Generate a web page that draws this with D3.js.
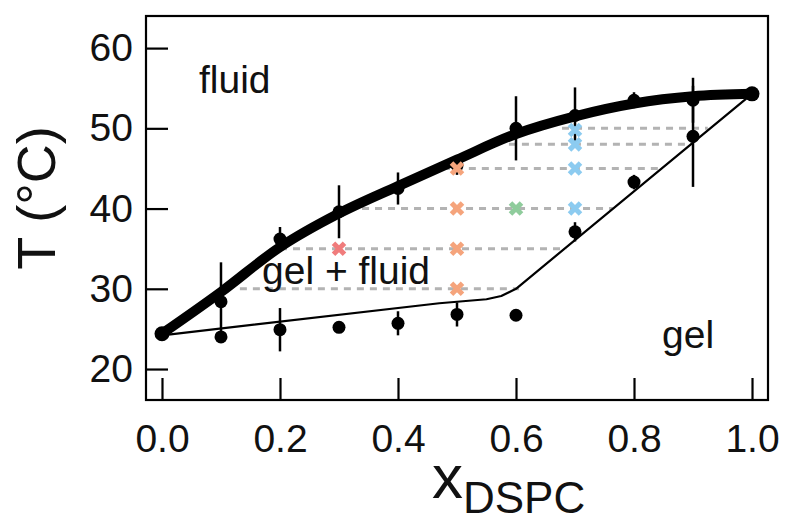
<!DOCTYPE html>
<html>
<head>
	<meta charset="utf-8">
	<script src="https://d3js.org/d3.v7.min.js"></script>
	<style>
	body{
		margin: 0;
		background: #fff;
	}
	svg text{
		font-family: "Liberation Sans", Arial, Helvetica, sans-serif;
		fill: #111;
	}
	</style>
</head>
<body>
<svg id="chart" width="785" height="523"></svg>
<script>
// composition (x DSPC)
var comps = [0.0, 0.1, 0.2, 0.3, 0.4, 0.5, 0.6, 0.7, 0.8, 0.9, 1.0];

// upper (liquidus) measured points
var upperT   = [24.4, 28.4, 36.2, 39.6, 42.5, 45.4, 50.0, 51.6, 53.5, 53.5, 54.3];
var upperErr = [0,    4.9,  1.5,  3.3,  2.0,  1.2,  4.0,  3.5,  1.0,  2.8,  0];

// lower (solidus) measured points, 0.1 .. 0.9
var lowerX   = [0.1, 0.2, 0.3, 0.4, 0.5, 0.6, 0.7, 0.8, 0.9];
var lowerT   = [24.0, 24.9, 25.2, 25.7, 26.8, 26.7, 37.1, 43.3, 49.0];
var lowerErr = [0.7, 2.7, 0, 1.5, 1.5, 0, 1.2, 0.9, 6.3];

// fitted liquidus curve (thick)
var fluidFitX = [0.0, 0.1, 0.2, 0.3, 0.4, 0.5, 0.6, 0.7, 0.8, 0.9, 1.0];
var fluidFitT = [24.4, 29.6, 35.2, 39.4, 42.8, 46.1, 49.3, 51.5, 53.1, 54.0, 54.3];

// fitted solidus line (thin)
var gelFitX = [0.0, 0.47, 0.55, 0.575, 0.6, 1.0];
var gelFitT = [24.2, 28.2, 28.7, 29.1, 30.0, 54.3];

// tie lines (dashed)
var tieT     = [30, 35, 40, 45, 48, 50];
var tieStart = [0.132, 0.2, 0.317, 0.476, 0.588, 0.678];
var tieEnd   = [0.605, 0.685, 0.764, 0.844, 0.893, 0.925];

// crosses
var crossX   = [0.3, 0.5, 0.5, 0.5, 0.5, 0.6, 0.7, 0.7, 0.7, 0.7];
var crossT   = [35, 30, 35, 40, 45, 40, 40, 45, 48, 49.8];
var crossCol = ["#f07c7c", "#f5a47c", "#f5a47c", "#f5a47c", "#f5a47c", "#8fcc9c", "#8ccbf0", "#8ccbf0", "#8ccbf0", "#8ccbf0"];

var xTicks = [0.0, 0.2, 0.4, 0.6, 0.8, 1.0];
var yTicks = [20, 30, 40, 50, 60];

// plot frame (px)
var pLeft = 146, pRight = 768, pTop = 16, pBottom = 400;

var x = d3.scaleLinear().domain([-0.0271, 1.0271]).range([pLeft, pRight]);
var y = d3.scaleLinear().domain([16.14, 64.0]).range([pBottom, pTop]);

var svg = d3.select("#chart");

// tie lines
tieT.forEach(function(t, i){
	svg.append("line")
		.attr("x1", x(tieStart[i]))
		.attr("x2", x(tieEnd[i]))
		.attr("y1", y(t))
		.attr("y2", y(t))
		.attr("stroke", "#b3b3b3")
		.attr("stroke-width", 3)
		.attr("stroke-dasharray", "7,6");
});

// solidus fit
var gelLine = d3.line()
	.x(function(d){ return x(d[0]); })
	.y(function(d){ return y(d[1]); });
svg.append("path")
	.attr("d", gelLine(gelFitX.map(function(v, i){ return [v, gelFitT[i]]; })))
	.attr("fill", "none")
	.attr("stroke", "#000")
	.attr("stroke-width", 2.2)
	.attr("stroke-linejoin", "round");

// liquidus fit
svg.append("path")
	.attr("d", d3.line()
		.x(function(d){ return x(d[0]); })
		.y(function(d){ return y(d[1]); })
		.curve(d3.curveCatmullRom)(fluidFitX.map(function(v, i){ return [v, fluidFitT[i]]; })))
	.attr("fill", "none")
	.attr("stroke", "#000")
	.attr("stroke-width", 10)
	.attr("stroke-linecap", "round");

// error bars
function errBar(cx, t, e){
	if (!e) return;
	svg.append("line")
		.attr("x1", x(cx)).attr("x2", x(cx))
		.attr("y1", y(t - e)).attr("y2", y(t + e))
		.attr("stroke", "#000")
		.attr("stroke-width", 2.5);
}
comps.forEach(function(c, i){ errBar(c, upperT[i], upperErr[i]); });
lowerX.forEach(function(c, i){ errBar(c, lowerT[i], lowerErr[i]); });

// dots
comps.forEach(function(c, i){
	svg.append("circle")
		.attr("cx", x(c)).attr("cy", y(upperT[i]))
		.attr("r", (i == 0 || i == comps.length - 1) ? 7.5 : 6.5)
		.attr("fill", "#000");
});
lowerX.forEach(function(c, i){
	svg.append("circle")
		.attr("cx", x(c)).attr("cy", y(lowerT[i]))
		.attr("r", 6.5)
		.attr("fill", "#000");
});

// crosses
crossX.forEach(function(c, i){
	svg.append("path")
		.attr("transform", "translate(" + x(c) + "," + y(crossT[i]) + ")")
		.attr("d", "M-5.5,-5.5L5.5,5.5M-5.5,5.5L5.5,-5.5")
		.attr("stroke", crossCol[i])
		.attr("stroke-width", 5)
		.attr("fill", "none");
});

// axes
var xAxis = d3.axisBottom(x).tickValues(xTicks).tickSize(-22).tickPadding(24)
	.tickFormat(d3.format(".1f"));
var gx = svg.append("g").attr("transform", "translate(0," + pBottom + ")").call(xAxis);
var yAxis = d3.axisLeft(y).tickValues(yTicks).tickSize(-22).tickPadding(13);
var gy = svg.append("g").attr("transform", "translate(" + pLeft + ",0)").call(yAxis);

[gx, gy].forEach(function(g){
	g.select(".domain").remove();
	g.selectAll(".tick line").attr("stroke", "#000").attr("stroke-width", 2.2);
	g.selectAll(".tick text")
		.attr("fill", "#111")
		.style("font-size", "39px")
		.style("font-family", "'Liberation Sans', Arial, sans-serif");
});

// frame
svg.append("rect")
	.attr("x", pLeft).attr("y", pTop)
	.attr("width", pRight - pLeft).attr("height", pBottom - pTop)
	.attr("fill", "none")
	.attr("stroke", "#000")
	.attr("stroke-width", 2.2);

// region labels
svg.append("text").attr("x", 199).attr("y", 93).style("font-size", "39px").text("fluid");
svg.append("text").attr("x", 262).attr("y", 284).style("font-size", "39px").text("gel + fluid");
svg.append("text").attr("x", 662).attr("y", 348).style("font-size", "39px").text("gel");

// axis titles
svg.append("text")
	.attr("transform", "translate(55,198) rotate(-90)")
	.attr("text-anchor", "middle")
	.style("font-size", "54px")
	.text("T (°C)");

var xt = svg.append("text")
	.attr("x", 432).attr("y", 498);
xt.append("tspan").style("font-size", "62px").text("x");
xt.append("tspan").style("font-size", "44px").attr("dy", 15).text("DSPC");
</script>
</body>
</html>
